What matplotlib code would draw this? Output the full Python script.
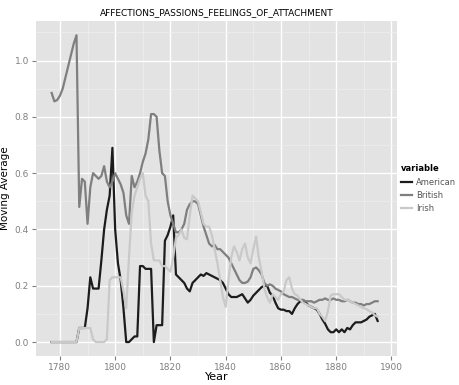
import numpy as np
import matplotlib
matplotlib.use("Agg")
import matplotlib.pyplot as plt
from matplotlib.ticker import MultipleLocator

# yearly moving averages
years = np.arange(1777, 1896)

american = [0, 0, 0, 0, 0, 0, 0, 0, 0, 0,
            0.05, 0.05, 0.05, 0.12, 0.23, 0.19, 0.19, 0.19, 0.29, 0.40,
            0.47, 0.52, 0.69, 0.40, 0.28, 0.22, 0.12, 0.0, 0.0, 0.01,
            0.02, 0.02, 0.27, 0.27, 0.26, 0.26, 0.26, 0.0, 0.06, 0.06,
            0.06, 0.36, 0.38, 0.41, 0.45, 0.24, 0.23, 0.22, 0.21, 0.19,
            0.18, 0.21, 0.22, 0.23, 0.24, 0.235, 0.245, 0.24, 0.235, 0.23,
            0.225, 0.22, 0.21, 0.19, 0.17, 0.16, 0.16, 0.16, 0.165, 0.17,
            0.155, 0.14, 0.15, 0.165, 0.175, 0.185, 0.195, 0.2, 0.2, 0.175,
            0.165, 0.14, 0.12, 0.115, 0.115, 0.11, 0.11, 0.1, 0.12, 0.135,
            0.145, 0.145, 0.14, 0.13, 0.125, 0.12, 0.115, 0.1, 0.08, 0.065,
            0.045, 0.035, 0.035, 0.045, 0.035, 0.045, 0.035, 0.05, 0.045, 0.06,
            0.07, 0.07, 0.07, 0.075, 0.08, 0.09, 0.095, 0.1, 0.075]

british = [0.885, 0.855, 0.86, 0.875, 0.9, 0.94, 0.98, 1.02, 1.06, 1.09,
           0.48, 0.58, 0.57, 0.42, 0.55, 0.60, 0.59, 0.58, 0.59, 0.625,
           0.57, 0.55, 0.57, 0.6, 0.58, 0.56, 0.53, 0.45, 0.42, 0.59,
           0.55, 0.57, 0.6, 0.64, 0.67, 0.72, 0.81, 0.81, 0.8, 0.68,
           0.6, 0.59, 0.5, 0.45, 0.42, 0.39, 0.39, 0.4, 0.42, 0.47,
           0.49, 0.5, 0.5, 0.49, 0.45, 0.41, 0.38, 0.35, 0.34, 0.345,
           0.33, 0.33, 0.32, 0.31, 0.3, 0.28, 0.26, 0.24, 0.22, 0.21,
           0.21, 0.215, 0.23, 0.26, 0.265, 0.255, 0.24, 0.21, 0.2, 0.205,
           0.2, 0.19, 0.185, 0.18, 0.17, 0.165, 0.16, 0.16, 0.155, 0.15,
           0.15, 0.15, 0.145, 0.145, 0.145, 0.14, 0.145, 0.15, 0.15, 0.155,
           0.15, 0.15, 0.155, 0.15, 0.15, 0.145, 0.145, 0.15, 0.145, 0.14,
           0.14, 0.135, 0.135, 0.13, 0.135, 0.135, 0.14, 0.145, 0.145]

irish = [0, 0, 0, 0, 0, 0, 0, 0, 0, 0,
         0.05, 0.05, 0.05, 0.05, 0.05, 0.01, 0.0, 0.0, 0.0, 0.0,
         0.01, 0.22, 0.23, 0.23, 0.23, 0.23, 0.18, 0.12, 0.3, 0.46,
         0.52, 0.55, 0.58, 0.6, 0.52, 0.5, 0.35, 0.29, 0.29, 0.29,
         0.27, 0.27, 0.26, 0.25, 0.3, 0.37, 0.38, 0.4, 0.37, 0.365,
         0.45, 0.52, 0.51, 0.5, 0.46, 0.42, 0.41, 0.41, 0.38, 0.33,
         0.28, 0.22, 0.16, 0.125, 0.22, 0.3, 0.34, 0.32, 0.29, 0.33,
         0.35, 0.3, 0.28, 0.33, 0.375, 0.3, 0.25, 0.19, 0.16, 0.14,
         0.17, 0.16, 0.15, 0.17, 0.18, 0.22, 0.23, 0.19, 0.17, 0.165,
         0.15, 0.14, 0.135, 0.13, 0.125, 0.12, 0.12, 0.1, 0.09, 0.075,
         0.11, 0.165, 0.17, 0.17, 0.17, 0.16, 0.15, 0.15, 0.145, 0.14,
         0.135, 0.13, 0.125, 0.12, 0.117, 0.11, 0.105, 0.095, 0.09]

series = ["American", "British", "Irish"]
colors = ["#1c1c1c", "#7f7f7f", "#c9c9c9"]

fig = plt.figure(figsize=(4.6, 3.85), dpi=100)
ax = fig.add_axes([0.078, 0.075, 0.785, 0.870])
ax.set_facecolor("#e3e3e3")

for name, vals, c in zip(series, [american, british, irish], colors):
    ax.plot(years, vals, color=c, linewidth=1.6, label=name, zorder=3)

ax.set_xlim(1771.3, 1902)
ax.set_ylim(-0.05, 1.14)
ax.xaxis.set_major_locator(MultipleLocator(20))
ax.xaxis.set_minor_locator(MultipleLocator(10))
ax.yaxis.set_major_locator(MultipleLocator(0.2))
ax.yaxis.set_minor_locator(MultipleLocator(0.1))
ax.yaxis.set_major_formatter(matplotlib.ticker.FormatStrFormatter("%.1f"))
ax.grid(which="major", color="white", linewidth=1.0, zorder=0)
ax.grid(which="minor", color="#efefef", linewidth=0.5, zorder=0)
ax.set_axisbelow(True)
for s in ax.spines.values():
    s.set_visible(False)
ax.tick_params(which="major", length=3, color="#7f7f7f", labelsize=6.5,
               labelcolor="#7f7f7f", pad=2)
ax.tick_params(which="minor", length=0)

ax.set_title("AFFECTIONS_PASSIONS_FEELINGS_OF_ATTACHMENT", fontsize=6.5, pad=4)
ax.set_xlabel("Year", fontsize=8, labelpad=0)
ax.set_ylabel("Moving Average", fontsize=7.5, labelpad=3)

leg = ax.legend(loc="center left", bbox_to_anchor=(1.0, 0.5), frameon=False,
                title="variable", fontsize=6, title_fontsize=6,
                handlelength=1.3, labelspacing=0.5, handletextpad=0.5,
                borderaxespad=0.3, borderpad=0.2)
leg.get_title().set_fontweight("bold")
leg._legend_box.align = "left"
for t in leg.get_texts():
    t.set_color("#555555")

fig.savefig("out.png", dpi=100)
